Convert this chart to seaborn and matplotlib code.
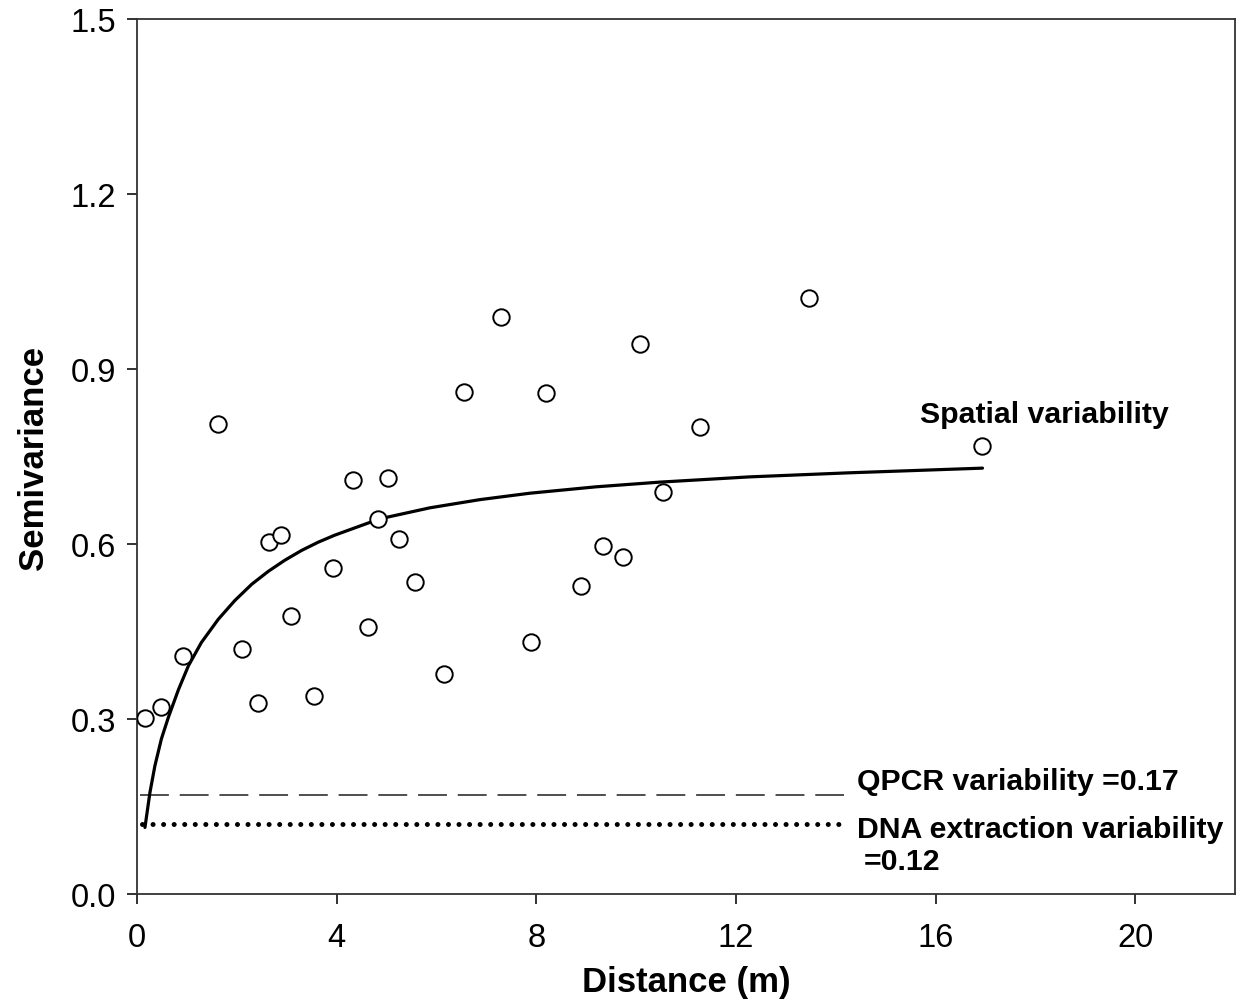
import matplotlib
matplotlib.use("Agg")
import matplotlib.pyplot as plt
import seaborn as sns
import pandas as pd

# Observed semivariance points
dist = [0.16, 0.48, 0.92, 1.62, 2.10, 2.42, 2.64, 2.88, 3.08, 3.54, 3.92, 4.32,
        4.62, 4.82, 5.02, 5.25, 5.57, 6.15, 6.55, 7.29, 7.89, 8.19, 8.89, 9.33,
        9.73, 10.07, 10.53, 11.29, 13.47, 16.94]
semivar = [0.302, 0.321, 0.408, 0.806, 0.420, 0.327, 0.603, 0.615, 0.477, 0.339,
           0.559, 0.710, 0.458, 0.643, 0.713, 0.609, 0.535, 0.377, 0.861, 0.989,
           0.432, 0.859, 0.528, 0.597, 0.578, 0.943, 0.689, 0.800, 1.022, 0.768]

# Fitted model curve
fit_x = [0.16, 0.26, 0.36, 0.49, 0.63, 0.83, 1.03, 1.29, 1.63, 1.96, 2.30, 2.63,
         2.96, 3.30, 3.63, 3.96, 4.86, 5.87, 6.87, 7.87, 9.20, 10.47, 12.27,
         14.27, 16.94]
fit_y = [0.114, 0.174, 0.220, 0.266, 0.303, 0.350, 0.391, 0.431, 0.471, 0.503,
         0.531, 0.553, 0.572, 0.589, 0.603, 0.615, 0.643, 0.662, 0.676, 0.687,
         0.698, 0.706, 0.715, 0.722, 0.730]

# Reference variability levels
qpcr_x = [0.06, 14.17]
qpcr_y = [0.17, 0.17]
dna_x = [0.10, 14.07]
dna_y = [0.12, 0.12]

x_ticks = [0, 4, 8, 12, 16, 20]
y_ticks = [0.0, 0.3, 0.6, 0.9, 1.2, 1.5]

sns.set_style("ticks")
plt.rcParams['font.family'] = ['Liberation Sans', 'DejaVu Sans']
plt.rcParams['text.color'] = 'black'
plt.rcParams['axes.labelcolor'] = 'black'

fig = plt.figure(figsize=(12.44, 10.04), dpi=100)
ax = fig.add_axes([0.1101, 0.1086, 0.8827, 0.8715])

pts = pd.DataFrame({"Distance": dist, "Semivariance": semivar})
fit = pd.DataFrame({"x": fit_x, "y": fit_y})

sns.lineplot(data=pd.DataFrame({"x": qpcr_x, "y": qpcr_y}), x="x", y="y", ax=ax,
             color="#404040", lw=1.3, sort=False)
ax.lines[-1].set_dashes((16, 6))
sns.lineplot(data=pd.DataFrame({"x": dna_x, "y": dna_y}), x="x", y="y", ax=ax,
             color="black", lw=3.6, sort=False)
ax.lines[-1].set_dashes((0.01, 2.1))
ax.lines[-1].set_dash_capstyle("round")
sns.lineplot(data=fit, x="x", y="y", ax=ax, color="black", lw=2.3, sort=False)
ax.lines[-1].set_solid_joinstyle("round")
sns.scatterplot(data=pts, x="Distance", y="Semivariance", ax=ax, s=140,
                facecolor="white", edgecolor="black", linewidth=1.4, zorder=5)

ax.set_xlim(0, 22)
ax.set_ylim(0, 1.5)
ax.set_xticks(x_ticks)
ax.set_xticklabels([str(t) for t in x_ticks])
ax.set_yticks(y_ticks)
ax.set_yticklabels([f"{t:.1f}" for t in y_ticks])
ax.tick_params(axis="both", direction="out", length=7, width=1.3,
               labelsize=23.5, colors="#222222", labelcolor="black", pad=8)
ax.tick_params(axis="x", pad=13)
for s in ax.spines.values():
    s.set_visible(True)
    s.set_linewidth(1.3)
    s.set_color("#333333")

ax.set_xlabel("Distance (m)", fontsize=25, fontweight="bold", labelpad=9)
ax.set_ylabel("Semivariance", fontsize=25, fontweight="bold", labelpad=15)

ax.text(15.68, 0.823, "Spatial variability", fontsize=21.8, fontweight="bold",
        ha="left", va="center")
ax.text(14.43, 0.194, "QPCR variability =0.17", fontsize=21.8, fontweight="bold",
        ha="left", va="center")
ax.text(14.43, 0.111, "DNA extraction variability", fontsize=21.8, fontweight="bold",
        ha="left", va="center")
ax.text(14.57, 0.057, "=0.12", fontsize=21.8, fontweight="bold",
        ha="left", va="center")

fig.savefig("out.png", dpi=100)
